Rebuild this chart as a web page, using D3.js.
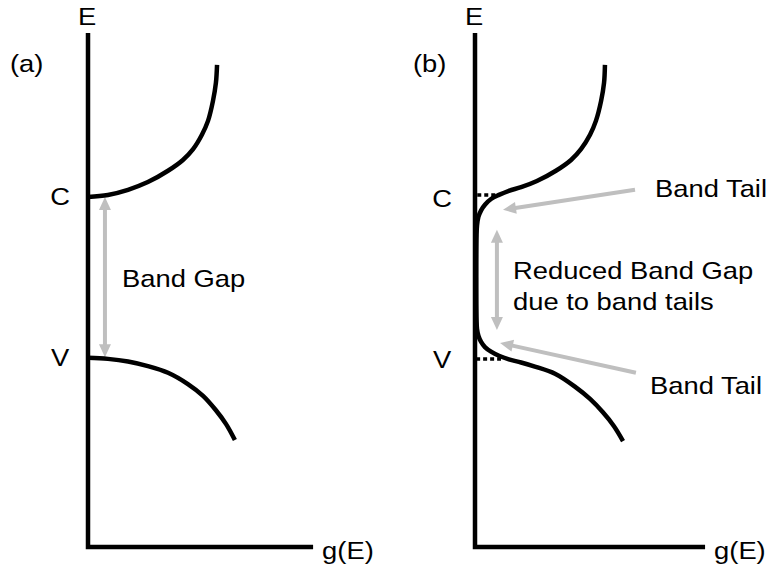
<!DOCTYPE html>
<html><head><meta charset="utf-8">
<script src="https://cdn.jsdelivr.net/npm/d3@7"></script>
<style>
html,body{margin:0;padding:0;background:#fff;}
text{font-family:"Liberation Sans",Arial,sans-serif;fill:#000;}
</style></head>
<body>
<svg id="chart" width="772" height="570"></svg>
<script>
// ---------- data (arbitrary units: g 0..100, E 0..100) ----------
const panels = ["(a)", "(b)"];
const axisLabelE = "E";
const axisLabelG = "g(E)";
const levelLabels = ["C", "V"];
const levelE = [68.1, 36.8];            // conduction / valence band edges
const axisGMax = [99.6, 101.8];
const axisEMax = 100;

// panel (a): ideal bands
const condA_g = [0, 8.8, 17.7, 26.5, 35.4, 42.0, 46.5, 50.4, 53.1, 55.3, 56.6, 57.1];
const condA_E = [68.1, 68.5, 69.5, 71.0, 73.2, 75.3, 77.4, 80.2, 82.9, 86.8, 90.3, 93.8];
const valA_g  = [0, 8.8, 17.7, 26.5, 35.4, 44.2, 50.9, 56.6, 61.1, 65.0];
const valA_E  = [36.8, 36.6, 36.1, 35.2, 33.9, 31.7, 29.4, 26.6, 23.9, 20.8];

// panel (b): bands with tails (one continuous curve, top to bottom)
const tailB_g = [57.5, 57.1, 55.8, 53.5, 50.9, 46.9, 42.5, 35.8, 27.4, 20.4, 15.0, 10.6, 7.1, 4.4, 2.7, 1.5, 0.9, 0.7,
                 0.7, 0.9, 1.5, 2.7, 4.4, 7.1, 10.6, 15.0, 20.4, 26.5, 35.4, 44.2, 50.9, 56.6, 61.5, 65.5];
const tailB_E = [93.8, 90.3, 86.8, 82.9, 80.2, 77.4, 75.3, 73.2, 71.2, 70.0, 69.3, 68.5, 67.7, 66.6, 65.5, 64.2, 62.6, 60.7,
                 44.2, 42.4, 41.1, 39.9, 38.9, 38.0, 37.2, 36.5, 35.9, 35.1, 33.7, 31.2, 28.8, 26.2, 23.5, 20.6];

// dotted band-edge markers in (b): [g0, g1, E]
const dotC = [1.0, 10.6, 68.5];
const dotV = [0.5, 11.5, 36.6];

// annotations
const gapLabelA = ["Band Gap"];
const gapLabelB = ["Reduced Band Gap", "due to band tails"];
const tailLabel = "Band Tail";
const gapArrowA = {g: 7.5, e1: 68.1, e2: 36.9};
const gapArrowB = {g: 9.7, e1: 61.7, e2: 42.2};
const tailArrows = [
  {g1: 70.8, e1: 69.5, g2: 12.4, e2: 65.6},
  {g1: 71.2, e1: 33.9, g2: 11.1, e2: 39.7}
];

// ---------- scales ----------
const svg = d3.select("#chart");
const y = d3.scaleLinear().domain([0, axisEMax]).range([547, 33]);
const xA = d3.scaleLinear().domain([0, 100]).range([88, 314]);
const xB = d3.scaleLinear().domain([0, 100]).range([475, 701]);
const xs = [xA, xB];

const SX = 1.14, FS = 24;
function label(x, yy, str, anchor) {
  svg.append("text")
    .attr("transform", `translate(${x},${yy}) scale(${SX},1)`)
    .attr("text-anchor", anchor || "start")
    .attr("font-size", FS)
    .text(str);
}

const gray = "#bfbfbf";
function arrow(x1, y1, x2, y2, both) {
  const L = 13, Wd = 12;
  const dx = x2 - x1, dy = y2 - y1, len = Math.hypot(dx, dy);
  const ux = dx / len, uy = dy / len, px = -uy, py = ux;
  const sx = both ? x1 + ux * L * 0.7 : x1, sy = both ? y1 + uy * L * 0.7 : y1;
  const ex = x2 - ux * L * 0.7, ey = y2 - uy * L * 0.7;
  svg.append("line").attr("x1", sx).attr("y1", sy).attr("x2", ex).attr("y2", ey)
    .attr("stroke", gray).attr("stroke-width", 4);
  const head = (tx, ty, vx, vy) => {
    const bx = tx - vx * L, by = ty - vy * L;
    svg.append("path")
      .attr("d", `M${tx},${ty}L${bx + px * Wd / 2},${by + py * Wd / 2}L${bx - px * Wd / 2},${by - py * Wd / 2}Z`)
      .attr("fill", gray);
  };
  head(x2, y2, ux, uy);
  if (both) head(x1, y1, -ux, -uy);
}

const line = (x) => d3.line().x(d => x(d[0])).y(d => y(d[1])).curve(d3.curveCatmullRom.alpha(0.5));

// ---------- axes ----------
panels.forEach((p, i) => {
  const x = xs[i];
  svg.append("path")
    .attr("d", d3.line()([[x(0), y(axisEMax)], [x(0), y(0)], [x(axisGMax[i]), y(0)]]))
    .attr("fill", "none").attr("stroke", "#000").attr("stroke-width", 4.5)
    .attr("stroke-linejoin", "miter");
  label(x(0) - 1, 25, axisLabelE, "middle");
  label(x(axisGMax[i]) + 9, 559, axisLabelG, "start");
});
label(10, 72, panels[0]);
label(413, 72, panels[1]);

// level labels
label(xA(0) - 28, y(levelE[0]) + 8, levelLabels[0], "middle");
label(xA(0) - 28, y(levelE[1]) + 8, levelLabels[1], "middle");
label(xB(0) - 33, y(levelE[0]) + 10, levelLabels[0], "middle");
label(xB(0) - 33, y(levelE[1]) + 10, levelLabels[1], "middle");

// ---------- arrows (drawn under curves) ----------
arrow(xA(gapArrowA.g), y(gapArrowA.e1), xA(gapArrowA.g), y(gapArrowA.e2), true);
arrow(xB(gapArrowB.g), y(gapArrowB.e1), xB(gapArrowB.g), y(gapArrowB.e2), true);
tailArrows.forEach(a => arrow(xB(a.g1), y(a.e1), xB(a.g2), y(a.e2), false));

// ---------- curves ----------
const curveStyle = s => s.attr("fill", "none").attr("stroke", "#000").attr("stroke-width", 4.5)
  .attr("stroke-linecap", "butt");
svg.append("path").datum(d3.zip(condA_g, condA_E)).attr("d", line(xA)).call(curveStyle);
svg.append("path").datum(d3.zip(valA_g, valA_E)).attr("d", line(xA)).call(curveStyle);
svg.append("path").datum(d3.zip(tailB_g, tailB_E)).attr("d", line(xB)).call(curveStyle);

[dotC, dotV].forEach(d => {
  svg.append("line").attr("x1", xB(d[0])).attr("x2", xB(d[1]))
    .attr("y1", y(d[2])).attr("y2", y(d[2]))
    .attr("stroke", "#000").attr("stroke-width", 3.5).attr("stroke-dasharray", "4,3");
});

// ---------- text annotations ----------
label(122, 287, gapLabelA[0]);
label(513, 279, gapLabelB[0]);
label(513, 310, gapLabelB[1]);
label(655, 197, tailLabel);
label(650, 394, tailLabel);
</script>
</body></html>
